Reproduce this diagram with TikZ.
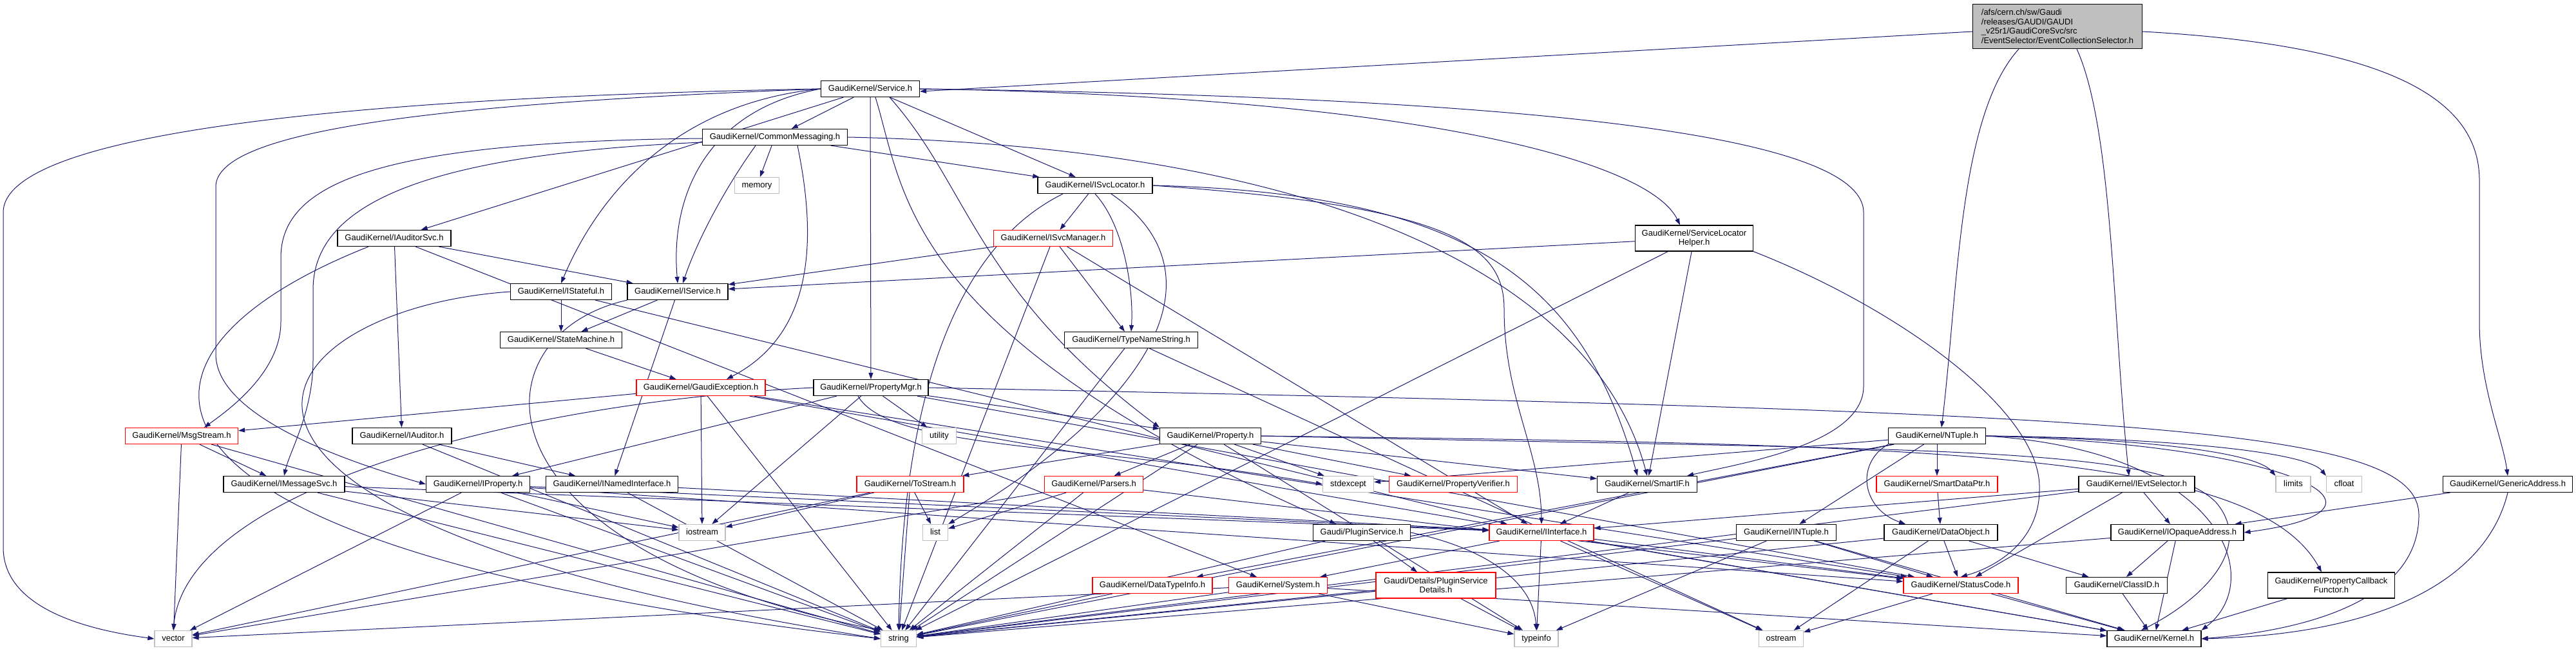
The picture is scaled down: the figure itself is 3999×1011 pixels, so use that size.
\documentclass[tikz,border=0pt]{standalone}
\usepackage{fontspec}
\setmainfont{Liberation Sans}
\usetikzlibrary{arrows.meta}
\definecolor{edgeblue}{HTML}{191970}
\definecolor{sysgray}{HTML}{BFBFBF}
\definecolor{cutred}{HTML}{FF0000}
\pgfdeclarelayer{edgelayer}
\pgfsetlayers{edgelayer,main}
\tikzset{
  filebox/.style={fill=white, line width=1.2pt, inner sep=0pt, font=\fontsize{13pt}{14.5pt}\selectfont},
  docfile/.style={filebox, draw=black, minimum height=25pt, text height=9.5pt, text depth=3pt},
  cutfile/.style={docfile, draw=cutred},
  sysfile/.style={docfile, draw=sysgray},
  docfiletwo/.style={filebox, draw=black, minimum height=40pt, align=center},
  cutfiletwo/.style={docfiletwo, draw=cutred},
  mainfile/.style={filebox, draw=black, fill=sysgray, minimum height=69pt, align=left},
  incl/.style={draw=edgeblue, line width=1pt, -{Triangle[length=10pt,width=7pt]}}
}
\begin{document}
\begin{tikzpicture}[x=1pt, y=-1pt]
    \useasboundingbox (0,0) rectangle (3999,1011);

    % Nodes: the file and its headers
    \node[mainfile, minimum width=263pt] (root) at (3194,41) {/afs/cern.ch/sw/Gaudi\\/releases/GAUDI/GAUDI\\\_v25r1/GaudiCoreSvc/src\\/EventSelector/EventCollectionSelector.h};
    \node[docfile, minimum width=153pt] (svc) at (1351,138) {GaudiKernel/Service.h};
    \node[docfile, minimum width=225pt] (cmsg) at (1203,213) {GaudiKernel/CommonMessaging.h};
    \node[sysfile, minimum width=69pt] (memory) at (1175,288) {memory};
    \node[docfile, minimum width=178pt] (isvcloc) at (1700,288) {GaudiKernel/ISvcLocator.h};
    \node[docfile, minimum width=176pt] (iaudsvc) at (612,370) {GaudiKernel/IAuditorSvc.h};
    \node[cutfile, minimum width=185pt] (isvcmgr) at (1635,370) {GaudiKernel/ISvcManager.h};
    \node[docfiletwo, minimum width=183pt] (slh) at (2630,370) {GaudiKernel/ServiceLocator\\Helper.h};
    \node[docfile, minimum width=157pt] (istateful) at (871,453) {GaudiKernel/IStateful.h};
    \node[docfile, minimum width=156pt] (iservice) at (1052,453) {GaudiKernel/IService.h};
    \node[docfile, minimum width=189pt] (statemach) at (871,528) {GaudiKernel/StateMachine.h};
    \node[docfile, minimum width=207pt] (typename) at (1756,528) {GaudiKernel/TypeNameString.h};
    \node[cutfile, minimum width=200pt] (gexc) at (1088,602) {GaudiKernel/GaudiException.h};
    \node[docfile, minimum width=178pt] (propmgr) at (1352,602) {GaudiKernel/PropertyMgr.h};
    \node[cutfile, minimum width=175pt] (msgstream) at (282,677) {GaudiKernel/MsgStream.h};
    \node[docfile, minimum width=154pt] (iauditor) at (624,677) {GaudiKernel/IAuditor.h};
    \node[sysfile, minimum width=53pt] (utility) at (1458,677) {utility};
    \node[docfile, minimum width=157pt] (property) at (1879,677) {GaudiKernel/Property.h};
    \node[docfile, minimum width=151pt] (ntuple) at (3007,677) {GaudiKernel/NTuple.h};
    \node[docfile, minimum width=188pt] (imsgsvc) at (441,752) {GaudiKernel/IMessageSvc.h};
    \node[docfile, minimum width=161pt] (iproperty) at (742,752) {GaudiKernel/IProperty.h};
    \node[docfile, minimum width=205pt] (inamed) at (950,752) {GaudiKernel/INamedInterface.h};
    \node[cutfile, minimum width=166pt] (tostream) at (1413,752) {GaudiKernel/ToStream.h};
    \node[cutfile, minimum width=153pt] (parsers) at (1698,752) {GaudiKernel/Parsers.h};
    \node[sysfile, minimum width=79pt] (stdexcept) at (2093,752) {stdexcept};
    \node[cutfile, minimum width=199pt] (propverif) at (2256,752) {GaudiKernel/PropertyVerifier.h};
    \node[docfile, minimum width=155pt] (smartif) at (2557,752) {GaudiKernel/SmartIF.h};
    \node[cutfile, minimum width=188pt] (smartdata) at (3007,752) {GaudiKernel/SmartDataPtr.h};
    \node[docfile, minimum width=180pt] (ievtsel) at (3317,752) {GaudiKernel/IEvtSelector.h};
    \node[sysfile, minimum width=54pt] (limits) at (3560,752) {limits};
    \node[sysfile, minimum width=55pt] (cfloat) at (3639,752) {cfloat};
    \node[docfile, minimum width=201pt] (genaddr) at (3893,752) {GaudiKernel/GenericAddress.h};
    \node[sysfile, minimum width=72pt] (iostream) at (1090,827) {iostream};
    \node[sysfile, minimum width=39pt] (list) at (1452,827) {list};
    \node[docfile, minimum width=151pt] (plugin) at (2114,827) {Gaudi/PluginService.h};
    \node[cutfile, minimum width=162pt] (iinterface) at (2393,827) {GaudiKernel/IInterface.h};
    \node[docfile, minimum width=155pt] (intuple) at (2773,827) {GaudiKernel/INTuple.h};
    \node[docfile, minimum width=176pt] (dataobj) at (3013,827) {GaudiKernel/DataObject.h};
    \node[docfile, minimum width=206pt] (iopaque) at (3380,827) {GaudiKernel/IOpaqueAddress.h};
    \node[cutfile, minimum width=186pt] (datatype) at (1789,909) {GaudiKernel/DataTypeInfo.h};
    \node[cutfile, minimum width=153pt] (system) at (1984,909) {GaudiKernel/System.h};
    \node[cutfiletwo, minimum width=186pt] (plugdet) at (2229,909) {Gaudi/Details/PluginService\\Details.h};
    \node[cutfile, minimum width=178pt] (statuscode) at (3044,909) {GaudiKernel/StatusCode.h};
    \node[docfile, minimum width=157pt] (classid) at (3286,909) {GaudiKernel/ClassID.h};
    \node[docfiletwo, minimum width=197pt] (propcb) at (3619,909) {GaudiKernel/PropertyCallback\\Functor.h};
    \node[sysfile, minimum width=58pt] (vector) at (269,992) {vector};
    \node[sysfile, minimum width=55pt] (string) at (1395,992) {string};
    \node[sysfile, minimum width=68pt] (typeinfo) at (2385,992) {typeinfo};
    \node[sysfile, minimum width=69pt] (ostream) at (2765,992) {ostream};
    \node[docfile, minimum width=146pt] (kernel) at (3344,992) {GaudiKernel/Kernel.h};

    \begin{pgfonlayer}{edgelayer}
    % Edges from the file itself
    \draw[incl] ([yshift=-8pt]root.west) -- ([yshift=-4pt]svc.east);
    \draw[incl] ([xshift=-60pt]root.south) .. controls (3040,180) and (3040,450) .. ([xshift=7pt]ntuple.north);
    \draw[incl] ([xshift=30pt]root.south) .. controls (3280,200) and (3280,500) .. ([xshift=-12pt]ievtsel.north);
    \draw[incl] ([yshift=-8pt]root.east) .. controls (3700,70) and (3849,150) .. (3849,280) -- (3849,500) .. controls (3849,600) and (3885,680) .. (genaddr.north);

    % Service.h
    \draw[incl] (svc) -- (cmsg);
    \draw[incl] (svc) -- (iaudsvc);
    \draw[incl] (svc.west) .. controls (1050,160) and (930,300) .. (istateful.north);
    \draw[incl] (svc.west) .. controls (1100,170) and (1040,300) .. (iservice.north);
    \draw[incl] (svc) -- (isvcloc);
    \draw[incl] (svc.east) .. controls (2200,150) and (2560,250) .. ([xshift=-22pt]slh.north);
    \draw[incl] (svc) -- (propmgr);
    \draw[incl] ([xshift=30pt]svc.south) .. controls (1505,290) and (1514,450) .. (property.north west);
    \draw[incl] ([xshift=8pt]svc.south) .. controls (1405,300) and (1400,520) .. ([xshift=-40pt]plugin.north);
    \draw[incl] (svc.west) .. controls (600,150) and (5,200) .. (5,330) -- (5,850) .. controls (5,950) and (150,980) .. (vector.west);
    \draw[incl] (svc.west) .. controls (700,160) and (335,200) .. (335,290) -- (335,550) .. controls (335,650) and (550,720) .. (iproperty.west);
    \draw[incl] (svc.east) .. controls (2300,150) and (2893,200) .. (2893,330) -- (2893,600) .. controls (2893,690) and (2700,720) .. ([xshift=-16pt]smartif.north east);

    % CommonMessaging.h
    \draw[incl] (cmsg) -- (memory);
    \draw[incl] ([xshift=-30pt]cmsg.south) .. controls (1120,300) and (1080,380) .. ([xshift=8pt]iservice.north);
    \draw[incl] (cmsg) -- (isvcloc);
    \draw[incl] (cmsg.east) .. controls (2100,230) and (2480,450) .. (smartif.north);
    \draw[incl] ([xshift=35pt]cmsg.south) .. controls (1270,380) and (1260,520) .. ([xshift=40pt]gexc.north);
    \draw[incl] ([yshift=-2pt]cmsg.west) .. controls (600,220) and (436,280) .. (436,400) -- (436,500) .. controls (436,580) and (350,640) .. ([xshift=35pt]msgstream.north);
    \draw[incl] ([yshift=-8pt]cmsg.west) .. controls (650,240) and (486,320) .. (486,450) -- (486,560) .. controls (486,640) and (450,700) .. (imsgsvc.north);

    % IAuditorSvc.h and IAuditor.h
    \draw[incl] (iaudsvc) -- (iservice);
    \draw[incl] (iaudsvc) -- (iauditor);
    \draw[incl] (iaudsvc) -- (system);
    \draw[incl] ([xshift=-40pt]iaudsvc.south) .. controls (150,550) and (120,850) .. (string.west);
    \draw[incl] (iauditor) -- (inamed);
    \draw[incl] (iauditor) -- (string);

    % IStateful.h, IService.h, StateMachine.h
    \draw[incl] (istateful) -- (statemach);
    \draw[incl] (istateful) -- (iinterface);
    \draw[incl] (istateful.west) .. controls (400,480) and (150,800) .. (string.west);
    \draw[incl] (iservice) -- (statemach);
    \draw[incl] (iservice) -- (inamed);
    \draw[incl] (iservice.south west) .. controls (735,520) and (720,850) .. (string.north west);
    \draw[incl] (statemach) -- (gexc);

    % ISvcLocator.h and ISvcManager.h
    \draw[incl] (isvcloc) -- (isvcmgr);
    \draw[incl] (isvcloc.south) .. controls (1745,350) and (1760,450) .. (typename.north);
    \draw[incl] (isvcloc.east) .. controls (2300,300) and (2460,450) .. ([xshift=-15pt]smartif.north);
    \draw[incl] (isvcloc.east) .. controls (2250,320) and (2335,380) .. (2335,480) .. controls (2335,620) and (2392,700) .. (iinterface.north);
    \draw[incl] ([xshift=-50pt]isvcloc.south) .. controls (1450,400) and (1400,700) .. (string.north);
    \draw[incl] ([xshift=25pt]isvcloc.south) .. controls (1900,420) and (1800,620) .. (list.north east);
    \draw[incl] (isvcmgr) -- (iservice);
    \draw[incl] (isvcmgr) -- (typename);
    \draw[incl] (isvcmgr) -- (string);
    \draw[incl] (isvcmgr) -- (iinterface);

    % ServiceLocatorHelper.h and TypeNameString.h
    \draw[incl] (slh) -- (iservice);
    \draw[incl] (slh) -- (smartif);
    \draw[incl] (slh.south east) .. controls (2950,480) and (3170,640) .. (3166,760) .. controls (3166,840) and (3100,880) .. (statuscode.north);
    \draw[incl] (slh) -- (string);
    \draw[incl] (typename) -- (string);
    \draw[incl] (typename) -- (ostream);

    % GaudiException.h
    \draw[incl] (gexc) -- (iostream);
    \draw[incl] (gexc) -- (msgstream);
    \draw[incl] (gexc) -- (string);
    \draw[incl] (gexc) -- (statuscode);
    \draw[incl] (gexc) -- (kernel);

    % PropertyMgr.h
    \draw[incl] (propmgr) -- (utility);
    \draw[incl] (propmgr) -- (property);
    \draw[incl] (propmgr) -- (iproperty);
    \draw[incl] (propmgr) -- (iostream);
    \draw[incl] (propmgr.west) .. controls (800,625) and (290,760) .. (vector.north);
    \draw[incl] ([xshift=-20pt]propmgr.south) .. controls (1380,700) and (1700,690) .. (stdexcept.west);
    \draw[incl] (propmgr) -- (statuscode);
    \draw[incl] (propmgr.east) .. controls (3300,640) and (3755,660) .. (3755,800) .. controls (3755,960) and (3500,985) .. (kernel.east);

    % Property.h
    \draw[incl] (property) -- (tostream);
    \draw[incl] (property) -- (parsers);
    \draw[incl] (property) -- (string);
    \draw[incl] (property) -- (smartif);
    \draw[incl] (property) -- (propverif);
    \draw[incl] (property) -- (stdexcept);
    \draw[incl] (property) -- (typeinfo);
    \draw[incl] (property.east) .. controls (3000,700) and (3350,690) .. (3440,780) .. controls (3500,850) and (3420,930) .. ([xshift=-20pt]kernel.north);
    \draw[incl] (property.east) .. controls (3000,690) and (3500,700) .. ([xshift=-15pt]propcb.north);

    % Parsers.h, ToStream.h, DataTypeInfo.h
    \draw[incl] (parsers) -- (list);
    \draw[incl] (parsers) -- (string);
    \draw[incl] (parsers) -- (statuscode);
    \draw[incl] (parsers) -- (vector);
    \draw[incl] (tostream) -- (iostream);
    \draw[incl] (tostream) -- (vector);
    \draw[incl] (tostream) -- (string);
    \draw[incl] (tostream) -- (list);
    \draw[incl] (datatype) -- (string);

    % System.h and the plugin service
    \draw[incl] (system) -- (string);
    \draw[incl] (system) -- (vector);
    \draw[incl] (system) -- (typeinfo);
    \draw[incl] (system) -- (kernel);
    \draw[incl] (plugin) -- (string);
    \draw[incl] (plugin) -- (plugdet);
    \draw[incl] (plugin.east) .. controls (2300,850) and (2380,900) .. (typeinfo.north);
    \draw[incl] (plugdet) -- (string);
    \draw[incl] (plugdet) -- (typeinfo);

    % Interfaces
    \draw[incl] (iinterface) -- (system);
    \draw[incl] (iinterface) -- (typeinfo);
    \draw[incl] (iinterface) -- (ostream);
    \draw[incl] (iinterface) -- (statuscode);
    \draw[incl] (iinterface) -- (kernel);
    \draw[incl] (smartif) -- (iinterface);
    \draw[incl] (inamed) -- (iinterface);
    \draw[incl] (inamed) -- (string);
    \draw[incl] (iproperty) -- (vector);
    \draw[incl] (iproperty) -- (iostream);
    \draw[incl] (iproperty) -- (iinterface);
    \draw[incl] (iproperty) -- (string);
    \draw[incl] (iproperty) -- (statuscode);
    \draw[incl] (imsgsvc) -- (iinterface);
    \draw[incl] (imsgsvc) -- (iostream);
    \draw[incl] (imsgsvc) -- (string);
    \draw[incl] (msgstream) -- (vector);
    \draw[incl] (msgstream) -- (string);
    \draw[incl] (msgstream) -- (imsgsvc);

    % NTuple.h
    \draw[incl] (ntuple) -- (datatype);
    \draw[incl] (ntuple) -- (intuple);
    \draw[incl] (ntuple) -- (smartdata);
    \draw[incl] (ntuple.south west) .. controls (2880,720) and (2890,790) .. ([xshift=-55pt]dataobj.north);
    \draw[incl] (ntuple.east) .. controls (3550,690) and (3760,790) .. (iopaque.east);
    \draw[incl] (ntuple.east) .. controls (3300,680) and (3500,700) .. (limits.north west);
    \draw[incl] (ntuple.east) .. controls (3350,680) and (3580,700) .. (cfloat.north west);
    \draw[incl] (ntuple) -- (stdexcept);
    \draw[incl] (ntuple) -- (string);
    \draw[incl] (ntuple.east) .. controls (3450,700) and (3520,900) .. (kernel.north east);
    \draw[incl] (smartdata) -- (dataobj);

    % INTuple.h, DataObject.h, StatusCode.h, ClassID.h
    \draw[incl] (intuple) -- (string);
    \draw[incl] (intuple) -- (typeinfo);
    \draw[incl] (intuple) -- (statuscode);
    \draw[incl] (intuple) -- (kernel);
    \draw[incl] (dataobj) -- (string);
    \draw[incl] (dataobj) -- (ostream);
    \draw[incl] (dataobj) -- (statuscode);
    \draw[incl] (dataobj) -- (classid);
    \draw[incl] (statuscode) -- (ostream);
    \draw[incl] (statuscode) -- (kernel);
    \draw[incl] (classid) -- (kernel);

    % IEvtSelector.h, IOpaqueAddress.h, GenericAddress.h
    \draw[incl] (ievtsel) -- (string);
    \draw[incl] (ievtsel) -- (iinterface);
    \draw[incl] (ievtsel) -- (statuscode);
    \draw[incl] (ievtsel) -- (iopaque);
    \draw[incl] (iopaque) -- (string);
    \draw[incl] (iopaque) -- (classid);
    \draw[incl] (iopaque) -- (kernel);
    \draw[incl] (genaddr) -- (iopaque);
    \draw[incl] (genaddr.south) .. controls (3860,900) and (3700,985) .. (kernel.east);
    \draw[incl] (propcb) -- (kernel);
    \end{pgfonlayer}
\end{tikzpicture}
\end{document}
